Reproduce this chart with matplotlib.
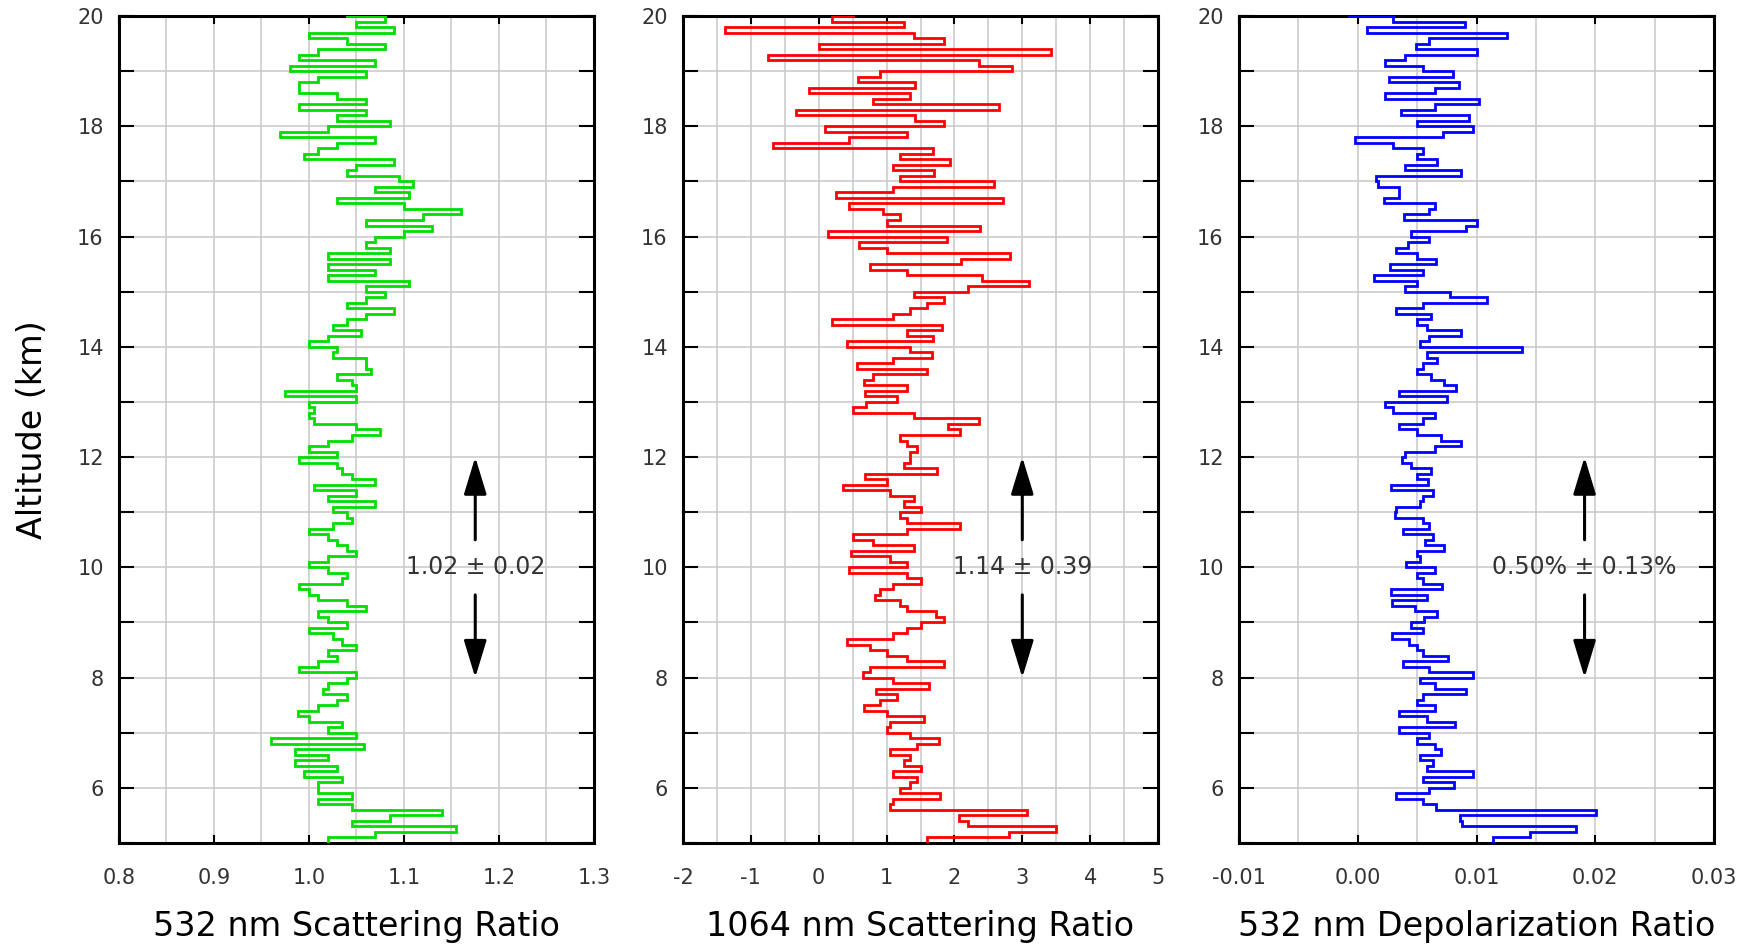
import numpy as np
import matplotlib
matplotlib.use('Agg')
import matplotlib.pyplot as plt
from matplotlib.ticker import MultipleLocator, FixedLocator, FuncFormatter

# Altitude bins (km), top to bottom
altitude = np.round(np.linspace(20.0, 5.0, 151), 1)

# 532 nm scattering ratio
sr532 = [
    1.04, 1.08, 1.05, 1.09, 1.00, 1.04, 1.08, 1.01, 0.99, 1.07, 0.98, 1.06, 1.01, 0.99, 0.99, 1.03, 1.06,
    0.99, 1.06, 1.03, 1.085, 1.02, 0.97, 1.07, 1.03, 1.01, 0.995, 1.09, 1.05, 1.04, 1.095, 1.11, 1.07,
    1.105, 1.03, 1.10, 1.16, 1.12, 1.06, 1.13, 1.10, 1.07, 1.06, 1.085, 1.02, 1.085, 1.02, 1.07, 1.02,
    1.105, 1.06,
    1.08, 1.06, 1.04, 1.09, 1.06, 1.04, 1.025, 1.055, 1.02, 1.00, 1.03, 1.025, 1.06, 1.06, 1.065, 1.03,
    1.045, 1.05, 0.975, 1.05, 1.00, 1.005, 1.00, 1.005, 1.05, 1.075, 1.045, 1.02, 1.00, 1.03, 0.99, 1.03,
    1.035, 1.045, 1.07, 1.005, 1.05, 1.02, 1.07, 1.025, 1.04, 1.045, 1.025, 1.00, 1.02, 1.03, 1.04, 1.05,
    1.02, 1.00,
    1.02, 1.04, 1.035, 0.99, 1.00, 1.01, 1.04, 1.06, 1.01, 1.02, 1.04, 1.00, 1.025, 1.035, 1.05, 1.02,
    1.03, 1.01, 0.99, 1.05, 1.04, 1.02, 1.015, 1.04, 1.03, 1.01, 0.988, 1.00, 1.035, 1.02, 1.05, 0.96,
    1.058, 0.985, 1.02, 0.985, 1.03, 0.995, 1.035, 1.01, 1.01, 1.045, 1.01, 1.045, 1.14, 1.085, 1.045,
    1.155, 1.07, 1.02,
]

# 1064 nm scattering ratio
sr1064 = [
    0.5, 0.2, 1.25, -1.38, 1.4, 1.84, 0.0, 3.43, -0.75, 2.36, 2.85, 0.9, 0.58, 1.42, -0.15, 1.35, 0.8,
    2.65, -0.33, 1.42, 1.84, 0.09, 1.3, 0.45, -0.67, 1.69, 1.2, 1.94, 1.1, 1.7, 1.2, 2.58, 1.1, 0.26,
    2.72, 0.45, 0.95, 1.2, 1.0, 2.38, 0.14, 1.89, 0.6, 1.0, 2.82, 2.1, 0.76, 1.3, 2.4, 3.1, 2.2,
    1.4, 1.85, 1.6, 1.35, 1.1, 0.2, 1.81, 1.3, 1.69, 0.41, 1.35, 1.67, 1.1, 0.56, 1.6, 0.8, 0.66, 1.3,
    0.68, 1.15, 0.7, 0.5, 1.4, 2.36, 1.9, 2.08, 1.2, 1.3, 1.45, 1.35, 1.35, 1.25, 1.74, 0.68, 1.0, 0.36,
    1.05, 1.4, 1.25, 1.5, 1.2, 1.3, 2.08, 1.3, 0.5, 0.8, 1.4, 0.48, 1.05, 1.3,
    0.45, 1.3, 1.5, 1.1, 0.9, 0.83, 1.2, 1.3, 1.73, 1.85, 1.5, 1.3, 1.1, 0.42, 0.75, 1.0, 1.3, 1.85,
    0.75, 0.65, 1.1, 1.62, 0.85, 1.15, 0.9, 0.66, 1.0, 1.55, 1.05, 1.0, 1.35, 1.77, 1.45, 1.05, 1.35,
    1.25, 1.5, 1.1, 1.45, 1.35, 1.2, 1.79, 1.1, 1.05, 3.07, 2.06, 2.2, 3.5, 2.8, 1.6,
]

# 532 nm depolarization ratio, in per mille
depol532_permille = [
    -0.7, 3.0, 9.0, 0.8, 12.6, 6.0, 4.9, 10.0, 4.0, 2.3, 5.5, 8.0, 2.6, 8.5, 6.5, 2.3, 10.2, 6.5, 3.6,
    9.4, 5.0, 9.7, 7.2, -0.2, 3.0, 5.5, 5.0, 6.7, 4.0, 8.7, 1.5, 1.7, 3.5, 3.5, 2.2, 6.5, 6.0, 3.9, 10.0,
    9.1, 4.5, 6.0, 4.2, 3.2, 5.0, 6.6, 2.7, 5.5, 1.4, 5.0, 4.0,
    7.8, 10.9, 5.5, 3.2, 6.2, 5.0, 5.8, 8.7, 6.0, 5.2, 13.8, 5.8, 6.7, 5.5, 5.0, 6.2, 7.3, 8.3, 3.5, 7.5,
    2.3, 3.0, 6.5, 5.5, 3.5, 5.0, 7.0, 8.7, 6.5, 4.0, 3.7, 4.5, 6.2, 5.0, 5.9, 2.8, 6.3, 5.5, 5.2, 3.2,
    3.1, 5.5, 6.0, 3.8, 6.3, 5.7, 7.3, 5.0, 5.2, 4.1,
    6.5, 5.0, 5.5, 7.1, 2.8, 5.8, 2.9, 4.8, 6.7, 5.6, 4.5, 5.5, 2.9, 4.3, 5.0, 5.5, 7.6, 3.8, 6.0, 9.7,
    5.2, 6.5, 9.1, 5.5, 5.0, 6.5, 3.5, 5.8, 8.2, 3.5, 6.0, 5.0, 6.5, 7.0, 5.2, 6.3, 5.8, 9.7, 5.5, 8.1,
    6.0, 3.2, 5.5, 6.6, 20.1, 8.6, 8.8, 18.4, 14.5, 11.4,
]
depol532 = [v / 1000.0 for v in depol532_permille]

xlabels = ["532 nm Scattering Ratio", "1064 nm Scattering Ratio", "532 nm Depolarization Ratio"]
annotations = ["1.02 \u00b1 0.02", "1.14 \u00b1 0.39", "0.50% \u00b1 0.13%"]
annot_x = [1.175, 3.0, 0.0191]
xlims = [(0.8, 1.3), (-2, 5), (-0.01, 0.03)]
xticks = [[0.8, 0.9, 1.0, 1.1, 1.2, 1.3], [-2, -1, 0, 1, 2, 3, 4, 5], [-0.01, 0.0, 0.01, 0.02, 0.03]]
xticklabels = [["0.8", "0.9", "1.0", "1.1", "1.2", "1.3"],
               ["-2", "-1", "0", "1", "2", "3", "4", "5"],
               ["-0.01", "0.00", "0.01", "0.02", "0.03"]]
xgrid_step = [0.05, 0.5, 0.005]
series = [sr532, sr1064, depol532]
colors = ["#00dd00", "#ff0000", "#0000ff"]

plt.rcParams['font.family'] = ['DejaVu Sans']

W, H = 1758, 944
fig = plt.figure(figsize=(W / 100, H / 100), dpi=100)
lefts = [119, 683, 1239]
aw = 475
top_px, bot_px = 16, 843


def ylab(v, p):
    n = int(round(v))
    return str(n) if n % 2 == 0 else ""


for i in range(3):
    ax = fig.add_axes([lefts[i] / W, 1 - bot_px / H, aw / W, (bot_px - top_px) / H])
    ax.set_xlim(*xlims[i])
    ax.set_ylim(5, 20)
    ax.xaxis.set_minor_locator(MultipleLocator(xgrid_step[i]))
    ax.xaxis.set_major_locator(FixedLocator(xticks[i]))
    ax.set_xticklabels(xticklabels[i])
    ax.yaxis.set_major_locator(MultipleLocator(1))
    ax.yaxis.set_major_formatter(FuncFormatter(ylab))
    ax.grid(True, which='both', color='#c8c8c8', linewidth=1.1, zorder=0)
    ax.set_axisbelow(True)
    ax.tick_params(axis='x', which='major', direction='in', top=True, bottom=True,
                   length=6, width=1.5, labelsize=15, pad=18, labelcolor='#333333')
    ax.tick_params(axis='x', which='minor', length=0)
    ax.tick_params(axis='y', which='major', direction='in', left=True, right=True,
                   length=11, width=1.5, labelsize=15, pad=11, labelcolor='#333333')
    for sp in ax.spines.values():
        sp.set_linewidth(2.2)
        sp.set_color('black')
    ax.plot(series[i], altitude, drawstyle='steps-post', color=colors[i], linewidth=2.0,
            solid_joinstyle='miter', zorder=3)
    ax.set_xlabel(xlabels[i], fontsize=24, labelpad=16)
    ax.text(annot_x[i], 10.0, annotations[i], ha='center', va='center', fontsize=17,
            color='#333333', zorder=4)
    ap = dict(arrowstyle='-|>,head_length=2.3,head_width=0.7', color='black', lw=2.2,
              mutation_scale=10, shrinkA=0, shrinkB=0)
    ax.annotate('', xy=(annot_x[i], 12.0), xytext=(annot_x[i], 10.5), arrowprops=ap, zorder=4)
    ax.annotate('', xy=(annot_x[i], 8.0), xytext=(annot_x[i], 9.5), arrowprops=ap, zorder=4)
    if i == 0:
        ax.set_ylabel("Altitude (km)", fontsize=24, labelpad=20)

fig.savefig("out.png", dpi=100)
